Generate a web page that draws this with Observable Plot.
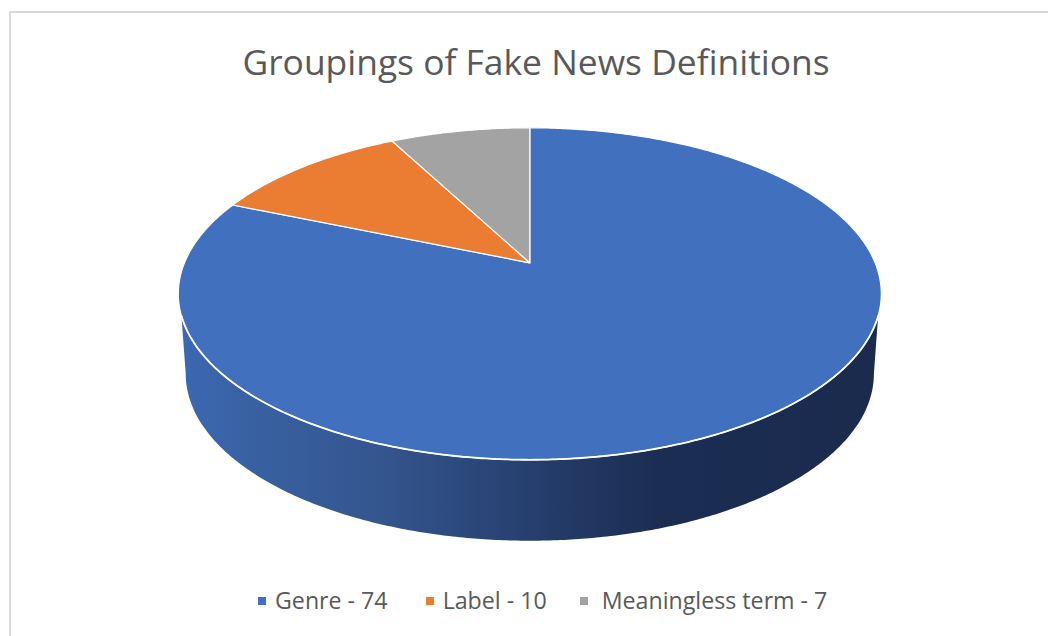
<!DOCTYPE html>
<html>
<head>
<meta charset="utf-8">
<script src="https://cdn.jsdelivr.net/npm/d3@7"></script>
<script src="https://cdn.jsdelivr.net/npm/@observablehq/plot@0.6"></script>
<style>
  html, body { margin: 0; padding: 0; background: #fff; }
  body { width: 1048px; height: 636px; overflow: hidden; position: relative; font-family: "Open Sans", sans-serif; }
  #frame { position: absolute; left: 9px; top: 11px; right: -4px; bottom: -4px; border: 2.5px solid #d9d9d9; pointer-events: none; }
  #title { position: relative; height: 110px; box-sizing: border-box; padding-top: 37px; text-align: center; font-size: 35.4px; line-height: 48px; color: #595959; margin-left: 24px; white-space: nowrap; }
  #chart svg { display: block; }
  #legend { position: relative; height: 76px; display: flex; align-items: flex-start; padding: 24px 0 0 258px; box-sizing: border-box; font-size: 23.2px; line-height: 32px; color: #595959; white-space: nowrap; }
  .item { display: flex; align-items: center; margin-right: 38px; }
  .item:nth-child(2) { margin-right: 33px; }
  .swatch { width: 8px; height: 8px; margin-right: 9px; margin-top: 1px; }
  .item:nth-child(3) .swatch { margin-right: 14px; }
</style>
</head>
<body>
<div id="frame"></div>
<div id="title">Groupings of Fake News Definitions</div>
<div id="chart"></div>
<div id="legend"></div>
<script>
// Definitions counted per grouping.
const categories = ["Genre", "Label", "Meaningless term"];
const counts = [74, 10, 7];
const colors = ["#4170BF", "#EB7D32", "#A3A3A3"];

// The disc is a unit circle seen in perspective: points further back shrink by 1 + tilt * cos(angle).
const tilt = 0.1867;
const rimDrop = 0.498;   // how far the lower rim sits below the top face
const rimScaleX = 0.979;
const rimScaleY = 1.006;

const radians = (deg) => (deg * Math.PI) / 180;
const project = (deg, lower = false) => {
  const t = radians(deg);
  const d = 1 + tilt * Math.cos(t);
  return {
    x: (Math.sin(t) / d) * (lower ? rimScaleX : 1),
    y: (Math.cos(t) / d) * (lower ? rimScaleY : 1) - (lower ? rimDrop : 0)
  };
};
const sweep = (from, to, lower) => {
  const n = Math.ceil(Math.abs(to - from) * 2);
  return d3.range(n + 1).map((i) => project(from + ((to - from) * i) / n, lower));
};

// Top-face wedges, clockwise from twelve o'clock.
const total = d3.sum(counts);
let running = 0;
const wedges = categories.flatMap((name, i) => {
  const start = (running / total) * 360;
  running += counts[i];
  const end = (running / total) * 360;
  return [{x: 0, y: 0}, ...sweep(start, end), {x: 0, y: 0}].map((p) => ({...p, name}));
});

// Visible wall: the front of the top rim, then back along the lower rim.
const wall = [...sweep(108.2, 251.8), ...sweep(259.2, 100.8, true)];
const frontEdge = sweep(108.2, 251.8);

const gradient = () => {
  const defs = d3.create("svg:defs");
  const g = defs.append("linearGradient").attr("id", "wallShade").attr("x1", 0).attr("x2", 1).attr("y1", 0).attr("y2", 0);
  [[0, "#3c68b2"], [0.12, "#38609f"], [0.28, "#34568f"], [0.5, "#263f6e"], [0.68, "#1b2d52"], [1, "#1a2b4e"]]
    .forEach(([o, c]) => g.append("stop").attr("offset", o).attr("stop-color", c));
  return defs.node();
};

const plot = Plot.plot({
  width: 1048,
  height: 450,
  margin: 0,
  x: {domain: [-1, 1], range: [184, 874.6], axis: null},
  y: {domain: [-1, 1], range: [312.5, -7.9], axis: null},
  color: {domain: categories, range: colors},
  marks: [
    gradient,
    Plot.line(wall, {x: "x", y: "y", fill: "url(#wallShade)", stroke: "none"}),
    Plot.line(wedges, {x: "x", y: "y", z: "name", fill: "name", stroke: "#fff", strokeWidth: 1.2}),
    Plot.line(frontEdge, {x: "x", y: "y", stroke: "#fff", strokeWidth: 1.8})
  ]
});
document.getElementById("chart").append(plot);

// Legend row under the chart.
const legend = d3.select("#legend");
categories.forEach((name, i) => {
  const item = legend.append("div").attr("class", "item");
  item.append("div").attr("class", "swatch").style("background", colors[i]);
  item.append("span").text(`${name} - ${counts[i]}`);
});
</script>
</body>
</html>
